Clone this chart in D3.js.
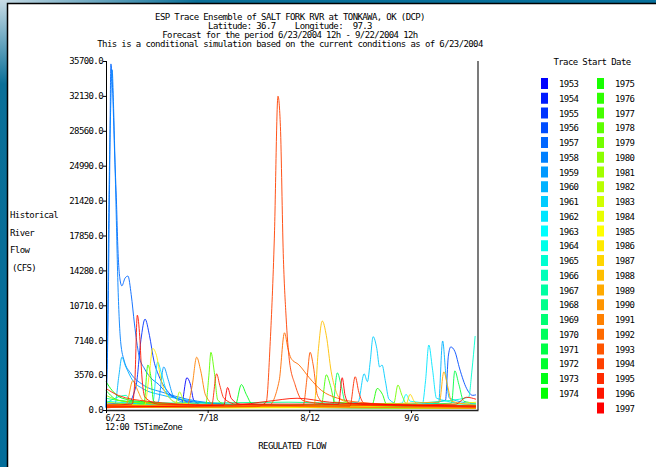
<!DOCTYPE html>
<html>
<head>
<meta charset="utf-8">
<script src="https://cdn.jsdelivr.net/npm/d3@7"></script>
<style>
body { margin: 0; background: #fff; }
svg text { font-family: "DejaVu Sans Mono", monospace; font-size: 9px; letter-spacing: -0.6px; fill: #000; white-space: pre; }
</style>
</head>
<body>
<div id="chart"></div>
<script>
// title + labels
const titleLines = [
    "ESP Trace Ensemble of SALT FORK RVR at TONKAWA, OK (DCP)",
    "Latitude: 36.7    Longitude:  97.3",
    "Forecast for the period 6/23/2004 12h - 9/22/2004 12h",
    "This is a conditional simulation based on the current conditions as of 6/23/2004"
];
const yLabelLines = ["Historical", "River", "Flow", "(CFS)"];
const yTicks = [0, 3570, 7140, 10710, 14280, 17850, 21420, 24990, 28560, 32130, 35700];
const xTickDays = [0, 25, 50, 75];
const xTickLabels = ["6/23", "7/18", "8/12", "9/6"];
const traceYears = [1953, 1954, 1955, 1956, 1957, 1958, 1959, 1960, 1961, 1962, 1963, 1964, 1965, 1966, 1967,
    1968, 1969, 1970, 1971, 1972, 1973, 1974, 1975, 1976, 1977, 1978, 1979, 1980, 1981, 1982, 1983, 1984,
    1985, 1986, 1987, 1988, 1989, 1990, 1991, 1992, 1993, 1994, 1995, 1996, 1997];

// [day after 6/23 12h, flow cfs]
const flow1953 = [[0,250],[10,300],[18.5,450],[19.9,3300],[20.7,2700],[21.6,1000],[24,450],[40,300],[60,250],[91,200]];
const flow1954 = [[0,600],[5,700],[15,500],[30,350],[50,250],[91,150]];
const flow1955 = [[0,400],[5,500],[7.4,2500],[8.6,7200],[9.6,9300],[10.7,7600],[11.8,5000],[13,3500],[15,2000],[18,1100],[25,700],[40,400],[91,250]];
const flow1956 = [[0,300],[20,350],[40,300],[60,250],[75,500],[83.5,1000],[84.2,5500],[84.8,6450],[85.8,6000],[87,4200],[88.7,2200],[90.2,1500],[91,1550]];
const flow1957 = [[0,300],[0.5,9000],[0.9,24000],[1.2,35400],[1.6,33000],[2.1,26500],[2.6,21000],[2.9,16800],[3.5,13200],[3.9,12700],[4.7,13500],[5.4,13700],[6.2,11800],[7,8800],[8.1,5600],[9.5,4200],[11,3300],[13,2600],[15,1700],[18,1100],[23,600],[30,450],[45,350],[70,300],[91,250]];
const flow1958 = [[0,200],[0.3,6000],[0.7,21000],[1.1,30000],[1.5,34800],[1.9,30500],[2.4,22000],[3,12000],[3.6,7000],[4.5,5000],[6,3800],[9,2600],[14,1800],[20,1100],[30,600],[50,400],[91,300]];
const flow1959 = [[0,300],[12.8,800],[14.2,4400],[15.3,3100],[16.5,1500],[19,800],[30,400],[60,250],[91,200]];
const flow1960 = [[0,300],[2.2,600],[3.2,3600],[3.9,5400],[4.8,4500],[6.6,3000],[9,2200],[14,1500],[20,1000],[30,500],[60,300],[81.8,700],[82.8,7060],[83.6,3600],[84.5,1200],[91,600]];
const flow1961 = [[0,400],[20,350],[45,300],[62,800],[63.5,3700],[64.3,2900],[65,5000],[65.7,7500],[66.6,6300],[67.3,4400],[67.9,4600],[68.7,3000],[69.6,1100],[72,600],[91,400]];
const flow1962 = [[0,300],[11.5,700],[12.7,4900],[13.6,3800],[15,1800],[17,800],[30,400],[60,300],[77.8,600],[78.6,3000],[79.4,6650],[80.3,4200],[81.3,1200],[91,500]];
const flow1963 = [[0,500],[20,400],[40,300],[60,350],[72.8,700],[73.8,1600],[74.8,900],[91,400]];
const flow1964 = [[0,900],[10,600],[30,400],[60,300],[91,250]];
const flow1965 = [[0,400],[30,300],[60,400],[80,800],[89.2,1300],[90,4000],[90.8,7570]];
const flow1966 = [[0,700],[5,1500],[6,800],[20,500],[50,300],[91,200]];
const flow1967 = [[0,300],[30,250],[50,400],[91,300]];
const flow1968 = [[0,1200],[5,900],[20,700],[45,800],[60,650],[91,500]];
const flow1969 = [[0,500],[10,400],[30,300],[91,200]];
const flow1970 = [[0,300],[30,300],[55.8,600],[56.9,3800],[57.8,2600],[58.8,900],[62,500],[91,400]];
const flow1971 = [[0,400],[20,300],[60,400],[85,700],[85.8,4000],[86.8,2600],[88,900],[91,700]];
const flow1972 = [[0,2000],[3,1000],[10,700],[30,500],[60,400],[91,300]];
const flow1973 = [[0,300],[31.8,500],[33.3,2600],[34.5,1600],[36,600],[60,400],[91,300]];
const flow1974 = [[0,2900],[1.5,2000],[4,1200],[10,800],[20,500],[40,300],[91,250]];
const flow1975 = [[0,400],[40,300],[65.5,600],[66.7,2200],[68,1600],[69,600],[91,300]];
const flow1976 = [[0,300],[9.3,500],[10.3,4600],[11,3500],[11.7,900],[15,400],[91,200]];
const flow1977 = [[0,300],[53,600],[54.2,3600],[55.2,2500],[56.3,800],[91,300]];
const flow1978 = [[0,300],[24.5,500],[25.3,3500],[25.8,5900],[26.6,4000],[27.5,1000],[30,500],[91,200]];
const flow1979 = [[0,500],[40,400],[70.8,700],[71.8,2550],[72.8,1500],[74,600],[91,400]];
const flow1980 = [[0,1500],[4,900],[15,600],[40,400],[91,250]];
const flow1981 = [[0,800],[10,500],[40,300],[91,200]];
const flow1982 = [[0,300],[17,500],[18.1,1850],[19,1000],[21,400],[91,200]];
const flow1983 = [[0,600],[20,350],[91,200]];
const flow1984 = [[0,400],[15,300],[91,200]];
const flow1985 = [[0,300],[30,200],[85,600],[91,800]];
const flow1986 = [[0,300],[9.5,500],[10.6,3500],[11.5,6300],[12.4,5600],[13.5,3200],[15,1500],[18,700],[40,350],[91,250]];
const flow1987 = [[0,400],[40,300],[73.8,600],[74.8,1600],[75.8,900],[78,400],[91,300]];
const flow1988 = [[0,300],[40,350],[51.2,500],[52.2,6000],[53.2,9100],[54.2,7600],[55.4,3900],[56.5,2000],[58,1000],[62,600],[91,350]];
const flow1989 = [[0,500],[30,400],[82,800],[83.1,3900],[84,2500],[85,900],[91,500]];
const flow1990 = [[0,200],[5,600],[6.6,3000],[7.8,2000],[9,1000],[12,600],[91,200]];
const flow1991 = [[0,300],[20,500],[21.2,2500],[22.3,5400],[23.3,4000],[24.5,1500],[27,500],[91,200]];
const flow1992 = [[0,500],[20,400],[40,450],[42.6,3000],[43.9,7900],[44.8,6200],[45.5,5300],[47.5,4600],[50,3300],[53,2000],[57,1200],[62,800],[75,500],[91,400]];
const flow1993 = [[0,300],[48.5,500],[49.5,3500],[50.2,5900],[51,4500],[52,1500],[54,600],[91,300]];
const flow1994 = [[0,400],[20,300],[37,350],[39.4,800],[40.4,7000],[41.4,17500],[42.3,32100],[42.9,29000],[43.6,16000],[44.3,9500],[45.1,5100],[46.5,2600],[48.3,1000],[52,700],[60,500],[91,400]];
const flow1995 = [[0,2200],[3,1500],[10,900],[26,500],[27.2,3700],[28,2500],[29,1200],[32,600],[60,400],[61.3,3400],[62.2,1800],[63.5,700],[91,300]];
const flow1996 = [[0,500],[6.4,600],[7.1,3000],[7.7,9700],[8.3,7500],[8.8,3600],[9.6,1300],[13,600],[31,500],[40,900],[47,1200],[55,800],[70,500],[86,600],[88.7,1300],[91,1100]];
const flow1997 = [[0,300],[29,500],[29.9,2300],[30.8,1200],[33,600],[57.2,600],[58.1,3300],[58.8,1500],[59.8,700],[91,400]];

const traceFlows = [flow1953, flow1954, flow1955, flow1956, flow1957, flow1958, flow1959, flow1960, flow1961,
    flow1962, flow1963, flow1964, flow1965, flow1966, flow1967, flow1968, flow1969, flow1970, flow1971, flow1972,
    flow1973, flow1974, flow1975, flow1976, flow1977, flow1978, flow1979, flow1980, flow1981, flow1982, flow1983,
    flow1984, flow1985, flow1986, flow1987, flow1988, flow1989, flow1990, flow1991, flow1992, flow1993, flow1994,
    flow1995, flow1996, flow1997];

class traceEnsembleViz {
    constructor(parentElement) {
        this.parentElement = parentElement;
        this.color = d3.scaleLinear()
            .domain([0, 10, 21, 32, 44])
            .range(["#0000ff", "#00ffff", "#00ff00", "#ffff00", "#ff0000"]);
        this.initVis();
    }

    initVis() {
        let vis = this;
        vis.width = 656;
        vis.height = 467;

        vis.svg = d3.select("#" + vis.parentElement).append("svg")
            .attr("width", vis.width)
            .attr("height", vis.height);

        // window frame
        let defs = vis.svg.append("defs");
        let g1 = defs.append("linearGradient").attr("id", "topGlare").attr("x1", 0).attr("x2", 1).attr("y1", 0).attr("y2", 0);
        g1.append("stop").attr("offset", "0").attr("stop-color", "#c8dce6");
        g1.append("stop").attr("offset", "0.3").attr("stop-color", "#0a6f98");
        g1.append("stop").attr("offset", "1").attr("stop-color", "#06709c");
        let g2 = defs.append("linearGradient").attr("id", "leftGlare").attr("x1", 0).attr("x2", 0).attr("y1", 0).attr("y2", 1);
        g2.append("stop").attr("offset", "0").attr("stop-color", "#c8dce6");
        g2.append("stop").attr("offset", "0.18").attr("stop-color", "#0a6f98");
        g2.append("stop").attr("offset", "1").attr("stop-color", "#036d9a");

        vis.svg.append("rect").attr("width", vis.width).attr("height", vis.height).attr("fill", "#fff");
        vis.svg.append("rect").attr("x", 0).attr("y", 0).attr("width", vis.width).attr("height", 3).attr("fill", "url(#topGlare)");
        vis.svg.append("rect").attr("x", 0).attr("y", 0).attr("width", 7).attr("height", vis.height).attr("fill", "url(#leftGlare)");
        vis.svg.append("path").attr("d", "M7.5," + vis.height + "V3.5H" + vis.width)
            .attr("fill", "none").attr("stroke", "#000").attr("stroke-width", 1.5);

        vis.plot = {left: 106, right: 478, top: 61, bottom: 410};

        vis.x = d3.scaleLinear().domain([0, 91.5]).range([vis.plot.left, vis.plot.right]);
        vis.y = d3.scaleLinear().domain([0, 35700]).range([vis.plot.bottom, vis.plot.top]);

        vis.wrangleData();
    }

    wrangleData() {
        let vis = this;
        vis.traces = traceYears.map((yr, i) => ({year: yr, index: i, values: traceFlows[i]}));
        vis.updateVis();
    }

    updateVis() {
        let vis = this;

        // titles
        vis.svg.selectAll(".title").data(titleLines).enter().append("text")
            .attr("class", "title")
            .attr("x", 290)
            .attr("y", (d, i) => 20 + i * 9)
            .attr("text-anchor", "middle")
            .text(d => d);

        vis.svg.selectAll(".ylab").data(yLabelLines).enter().append("text")
            .attr("class", "ylab")
            .attr("x", (d, i) => i == 3 ? 12 : 10)
            .attr("y", (d, i) => 218 + i * 17.7)
            .text(d => d);

        // lines
        let line = d3.line()
            .x(d => vis.x(d[0]))
            .y(d => vis.y(d[1]))
            .curve(d3.curveMonotoneX);

        vis.svg.append("g").selectAll(".trace")
            .data(vis.traces)
            .enter().append("path")
            .attr("class", "trace")
            .attr("fill", "none")
            .attr("stroke", d => vis.color(d.index))
            .attr("stroke-width", 1)
            .attr("stroke-opacity", 0.9)
            .attr("d", d => line(d.values));

        // axes
        let yAxis = d3.axisLeft(vis.y)
            .tickValues(yTicks)
            .tickFormat(d => d.toFixed(1))
            .tickSizeInner(3)
            .tickSizeOuter(0)
            .tickPadding(0);
        let yg = vis.svg.append("g")
            .attr("transform", "translate(" + vis.plot.left + ",0)")
            .call(yAxis);
        yg.selectAll("line").attr("x2", -3).attr("x1", 1);

        let xAxis = d3.axisBottom(vis.x)
            .tickValues(xTickDays)
            .tickFormat((d, i) => xTickLabels[i])
            .tickSizeInner(3)
            .tickSizeOuter(0)
            .tickPadding(2);
        let xg = vis.svg.append("g")
            .attr("transform", "translate(0," + vis.plot.bottom + ")")
            .call(xAxis);
        xg.select(".domain").attr("stroke", "#222").attr("stroke-width", 1.6);
        xg.selectAll(".tick text").filter((d, i) => i == 0).attr("text-anchor", "start").attr("x", -1);

        vis.svg.append("line")
            .attr("x1", vis.plot.right).attr("x2", vis.plot.right)
            .attr("y1", vis.plot.top).attr("y2", vis.plot.bottom)
            .attr("stroke", "#222").attr("stroke-width", 1.2);

        vis.svg.append("text").attr("x", 105).attr("y", 430).text("12:00 TSTimeZone");
        vis.svg.append("text").attr("x", 292).attr("y", 449).attr("text-anchor", "middle").text("REGULATED FLOW");

        // legend
        vis.svg.append("text").attr("x", 592).attr("y", 65).attr("text-anchor", "middle").text("Trace Start Date");

        let legend = vis.svg.append("g").selectAll(".legend")
            .data(vis.traces)
            .enter().append("g")
            .attr("class", "legend")
            .attr("transform", d => {
                let col = d.index < 22 ? 0 : 1;
                let row = col == 0 ? d.index : d.index - 22;
                return "translate(" + (541 + col * 56) + "," + (78 + row * 14.75) + ")";
            });
        legend.append("rect")
            .attr("width", 7).attr("height", 11)
            .attr("fill", d => vis.color(d.index));
        legend.append("text")
            .attr("x", 18).attr("y", 9)
            .text(d => d.year);
    }
}

new traceEnsembleViz("chart");
</script>
</body>
</html>
